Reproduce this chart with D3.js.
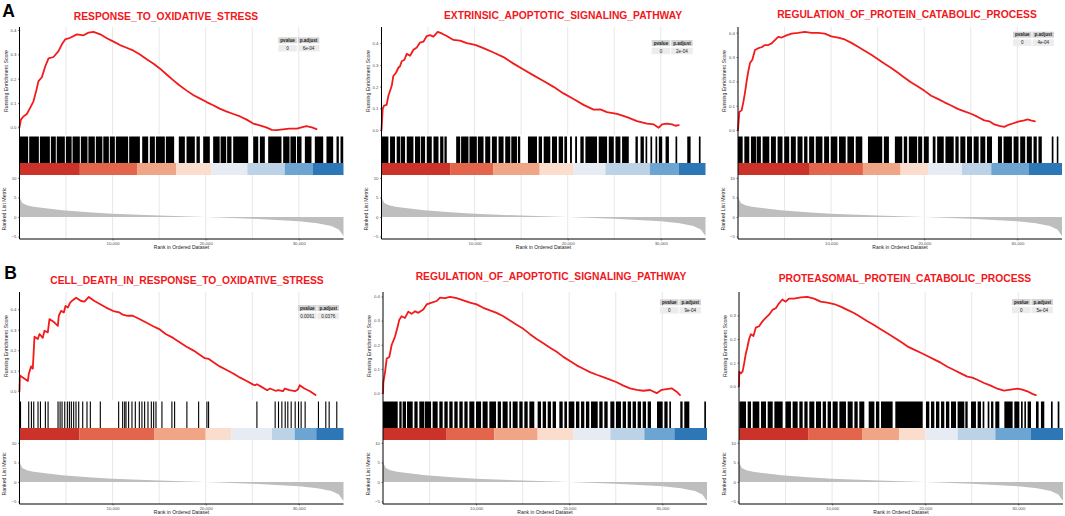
<!DOCTYPE html>
<html>
<head>
<meta charset="utf-8">
<script src="https://cdn.jsdelivr.net/npm/d3@7"></script>
<style>
  body { margin: 0; background: #fff; }
  svg { display: block; }
  text { font-family: "Liberation Sans", Arial, sans-serif; }
</style>
</head>
<body>
<svg id="chart"></svg>
<script>
// ---- data (ranks in thousands) ----
const rankMax = 34800;
const rankTicks = [10000, 20000, 30000];
const gridRanks = [5000, 10000, 15000, 20000, 25000, 30000];
const esTicks = [0, 0.1, 0.2, 0.3, 0.4];
const metricTicks = [-5, 0, 5, 10];

const titles = [
  "RESPONSE_TO_OXIDATIVE_STRESS",
  "EXTRINSIC_APOPTOTIC_SIGNALING_PATHWAY",
  "REGULATION_OF_PROTEIN_CATABOLIC_PROCESS",
  "CELL_DEATH_IN_RESPONSE_TO_OXIDATIVE_STRESS",
  "REGULATION_OF_APOPTOTIC_SIGNALING_PATHWAY",
  "PROTEASOMAL_PROTEIN_CATABOLIC_PROCESS"
];
const rowLabels = ["A", "B"];
const tableHead = ["pvalue", "p.adjust"];
const pvalues = ["0", "0", "0", "0.0061", "0", "0"];
const padjust = ["6e-04", "2e-04", "4e-04", "0.0376", "9e-04", "5e-04"];

// ranked list metric (shared gene list)
const metricRank = [0, 0.01, 0.05, 0.3, 0.8, 1.5, 2.8, 4.6, 7.4, 10, 15, 20, 25, 30, 32, 33.5, 34.3, 34.8];
const metricValue = [10.0, 5.6, 4.8, 3.6, 3.0, 2.6, 2.2, 1.7, 1.2, 0.8, 0.35, 0.0, -0.45, -1.1, -1.6, -2.3, -3.2, -4.9];

// running enrichment score [rank (k), ES]
const esA1 = [[0,0],[0.15,0.032],[0.42,0.045],[0.79,0.055],[1.14,0.08],[1.5,0.107],[1.78,0.148],[2.04,0.19],[2.4,0.206],[2.76,0.25],[3.12,0.283],[3.65,0.289],[4.19,0.313],[4.55,0.341],[4.91,0.361],[5.45,0.368],[6.16,0.382],[6.88,0.378],[7.41,0.389],[7.95,0.392],[8.67,0.382],[9.38,0.366],[10.1,0.352],[10.8,0.338],[11.5,0.327],[12.2,0.316],[12.9,0.3],[13.7,0.279],[14.4,0.261],[15.1,0.241],[15.8,0.217],[16.5,0.194],[17.2,0.172],[17.96,0.151],[18.7,0.132],[19.4,0.118],[20.1,0.104],[20.8,0.091],[21.5,0.077],[22.2,0.066],[22.97,0.055],[23.7,0.045],[24.4,0.032],[25.1,0.016],[25.8,0.008],[26.5,0.0],[27.1,-0.01],[27.6,-0.011],[28.3,-0.008],[29.0,-0.005],[29.8,-0.005],[30.3,0.0],[30.8,0.005],[31.4,0.0],[31.9,-0.007]];
const esA2 = [[0,0],[0.13,0.098],[0.27,0.113],[0.55,0.116],[0.74,0.158],[1.1,0.204],[1.27,0.249],[1.56,0.264],[1.81,0.287],[1.99,0.294],[2.17,0.317],[2.46,0.324],[2.71,0.351],[3.07,0.342],[3.43,0.37],[3.79,0.38],[4.14,0.403],[4.5,0.407],[4.86,0.433],[5.22,0.437],[5.58,0.43],[6.04,0.452],[6.47,0.445],[7.01,0.433],[7.73,0.415],[8.44,0.412],[9.16,0.4],[10.06,0.392],[10.95,0.377],[12.03,0.357],[13.1,0.336],[14.18,0.306],[15.25,0.279],[16.33,0.252],[17.4,0.226],[18.48,0.199],[19.55,0.169],[20.63,0.143],[21.7,0.116],[22.78,0.094],[23.5,0.095],[24.21,0.083],[25.3,0.075],[26.37,0.06],[27.44,0.041],[28.52,0.03],[29.24,0.026],[29.78,0.011],[30.13,0.026],[30.67,0.03],[31.21,0.026],[31.57,0.02],[31.93,0.023]];
const esA3 = [[0,0],[0.14,0.074],[0.39,0.081],[0.57,0.114],[0.75,0.154],[0.93,0.201],[1.11,0.242],[1.29,0.275],[1.54,0.289],[1.82,0.329],[2.18,0.336],[2.53,0.34],[2.89,0.349],[3.25,0.349],[3.61,0.356],[3.96,0.369],[4.32,0.383],[4.68,0.38],[5.21,0.389],[5.75,0.396],[6.46,0.399],[7.18,0.403],[7.89,0.399],[8.6,0.399],[9.32,0.396],[10.03,0.385],[10.75,0.38],[11.46,0.372],[12.18,0.358],[12.89,0.342],[13.6,0.326],[14.32,0.309],[15.03,0.291],[15.75,0.272],[16.46,0.255],[17.18,0.235],[17.89,0.215],[18.61,0.195],[19.32,0.179],[20.03,0.161],[20.75,0.141],[21.46,0.128],[22.18,0.114],[22.89,0.101],[23.6,0.087],[24.32,0.077],[25.03,0.067],[25.75,0.054],[26.46,0.04],[27.0,0.036],[27.53,0.023],[28.07,0.017],[28.6,0.013],[28.96,0.02],[29.5,0.027],[30.21,0.036],[30.75,0.04],[31.1,0.044],[31.46,0.04],[31.89,0.036]];
const esB1 = [[0,0],[0.04,0.077],[0.9,0.05],[1.0,0.085],[1.25,0.121],[1.43,0.11],[1.61,0.266],[1.97,0.255],[2.15,0.279],[2.5,0.26],[2.68,0.295],[3.04,0.287],[3.22,0.352],[3.76,0.335],[4.12,0.319],[4.22,0.368],[4.47,0.392],[4.76,0.384],[4.94,0.416],[5.19,0.408],[5.44,0.432],[5.72,0.444],[6.08,0.456],[6.62,0.44],[6.98,0.437],[7.44,0.46],[8.05,0.44],[8.58,0.427],[9.3,0.408],[10.19,0.389],[10.73,0.384],[11.09,0.373],[11.63,0.368],[12.16,0.368],[12.88,0.352],[13.6,0.335],[14.3,0.318],[15.0,0.303],[15.7,0.279],[16.5,0.26],[17.2,0.239],[17.9,0.218],[18.7,0.198],[19.4,0.177],[19.9,0.161],[20.3,0.158],[20.8,0.142],[21.5,0.121],[22.3,0.102],[23.0,0.085],[23.7,0.066],[24.4,0.05],[25.1,0.032],[25.3,0.029],[25.5,0.034],[26.0,0.021],[26.6,0.005],[26.9,0.013],[27.5,0.002],[27.8,0.005],[28.3,0],[28.5,0.013],[29.0,0.005],[29.6,0],[29.9,0.008],[30.1,0.029],[30.6,0.013],[31.2,0],[31.8,-0.019]];
const esB2 = [[0,0],[0.04,0.045],[0.22,0.087],[0.4,0.143],[0.68,0.15],[0.93,0.199],[1.29,0.234],[1.54,0.269],[1.75,0.304],[2.0,0.318],[2.36,0.311],[2.72,0.337],[3.08,0.328],[3.44,0.339],[3.79,0.332],[4.33,0.346],[4.69,0.367],[5.23,0.374],[5.76,0.381],[6.12,0.395],[6.66,0.393],[7.2,0.398],[7.91,0.393],[8.63,0.384],[9.34,0.374],[10.06,0.367],[10.77,0.353],[11.49,0.342],[12.2,0.332],[12.92,0.318],[13.64,0.3],[14.35,0.283],[15.07,0.266],[15.79,0.244],[16.5,0.224],[17.22,0.206],[17.94,0.188],[18.65,0.171],[19.37,0.15],[20.08,0.133],[20.8,0.115],[21.52,0.101],[22.23,0.087],[22.95,0.076],[23.67,0.066],[24.38,0.056],[25.1,0.045],[25.82,0.031],[26.53,0.02],[27.25,0.014],[27.96,0.01],[28.68,0.013],[29.4,0],[29.93,0.014],[30.47,0.017],[31.0,0.02],[31.54,0.006],[31.9,-0.008]];
const esB3 = [[0,0],[0.03,0.062],[0.2,0.055],[0.38,0.062],[0.55,0.096],[0.73,0.138],[0.9,0.165],[1.08,0.199],[1.27,0.22],[1.55,0.213],[1.8,0.248],[2.16,0.254],[2.52,0.275],[2.87,0.289],[3.23,0.303],[3.59,0.323],[3.95,0.33],[4.3,0.351],[4.66,0.367],[5.01,0.358],[5.37,0.371],[5.91,0.371],[6.63,0.376],[7.34,0.378],[8.06,0.371],[8.77,0.358],[9.49,0.354],[10.2,0.348],[10.92,0.337],[11.64,0.323],[12.35,0.31],[13.07,0.293],[13.79,0.275],[14.5,0.259],[15.22,0.241],[15.93,0.224],[16.65,0.206],[17.37,0.188],[18.08,0.169],[18.8,0.155],[19.52,0.142],[20.23,0.128],[20.95,0.114],[21.66,0.1],[22.38,0.083],[23.1,0.069],[23.81,0.055],[24.53,0.041],[25.07,0.037],[25.6,0.028],[26.32,0.014],[27.04,0.003],[27.75,-0.01],[28.47,-0.018],[29.19,-0.014],[29.9,-0.01],[30.44,-0.014],[30.97,-0.021],[31.51,-0.032],[31.87,-0.037]];

// gene-set hits, as [from, to] runs of ranks (k)
const hitsA1 = [[0,0.93],[1.04,2.08],[2.19,3.26],[3.37,3.9],[4.0,4.87],[4.98,5.6],[5.7,6.48],[6.59,7.3],[7.4,8.09],[8.2,8.9],[9.0,9.6],[9.7,10.24],[10.35,11.67],[11.78,12.93],[13.18,13.82],[14.0,14.54],[14.65,15.61],[15.72,16.61],[17.11,17.76],[17.94,18.83],[19.01,19.37],[19.73,20.44],[20.8,21.5],[21.6,22.2],[22.3,22.77],[22.95,24.56],[25.1,25.64],[25.82,26.35],[26.71,28.14],[28.32,29.0],[29.1,29.7],[29.8,30.29],[30.65,31.36],[31.72,32.62],[32.97,33.69],[34.05,34.3],[34.48,34.77]];
const hitsA2 = [[0,0.74],[0.92,1.45],[1.63,1.99],[2.06,2.53],[2.71,3.43],[3.6,4.14],[4.22,4.68],[4.86,5.4],[5.58,6.12],[6.3,6.65],[6.76,7.01],[8.02,8.45],[8.55,9.34],[9.45,10.24],[10.35,10.96],[11.14,11.68],[11.86,12.39],[12.57,13.11],[13.29,13.83],[13.94,14.55],[14.65,14.9],[15.73,16.7],[16.88,17.24],[17.42,18.13],[18.31,18.85],[19.03,19.5],[19.64,19.93],[20.25,20.45],[20.8,21.0],[21.36,21.72],[21.9,23.15],[23.33,24.23],[24.41,24.95],[25.13,25.66],[25.84,26.56],[27.28,27.53],[27.82,28.18],[28.36,28.54],[28.89,29.07],[29.43,29.61],[29.79,30.15],[30.51,30.87],[31.58,31.76],[32.84,33.2],[34.09,34.27]];
const hitsA3 = [[0,0.5],[0.68,1.21],[1.39,1.93],[2.0,2.46],[2.64,3.36],[3.54,4.07],[4.25,4.78],[4.96,5.5],[5.68,6.21],[6.39,6.93],[7.1,7.46],[7.64,8.18],[8.35,9.07],[9.25,9.78],[9.96,10.67],[10.85,11.57],[11.75,12.46],[12.64,13.35],[13.96,15.49],[15.67,16.21],[16.85,17.64],[17.81,18.17],[18.35,19.24],[19.35,19.78],[19.96,20.49],[20.92,21.21],[21.39,22.1],[22.28,23.17],[23.35,23.7],[23.88,24.42],[24.6,25.13],[25.31,25.85],[26.03,26.56],[26.74,27.28],[27.92,28.35],[28.52,29.42],[29.6,30.13],[30.31,30.85],[31.02,31.56],[31.74,32.09],[32.27,32.63],[33.7,33.88],[34.24,34.41]];
const hitsB1 = [0.05,0.93,1.22,1.47,1.93,2.19,2.72,3.01,4.08,4.3,4.51,4.8,5.08,5.3,5.51,5.76,6.01,6.3,6.73,7.19,7.55,8.62,10.59,11.02,11.24,11.38,11.66,12.02,12.38,12.81,13.09,13.38,13.74,14.1,14.35,14.6,15.24,16.31,16.6,17.92,19.18,20.07,20.25,25.44,27.4,27.76,28.12,28.48,28.76,29.12,29.55,29.91,30.19,30.62,32.05,32.84,33.2,34.02];
const hitsB2 = [[0,1.58],[1.75,2.0],[2.11,2.47],[2.58,3.19],[3.37,3.72],[3.9,4.44],[4.51,5.16],[5.33,5.87],[6.05,6.41],[6.59,6.95],[7.12,7.48],[7.66,8.02],[8.2,8.56],[8.74,9.09],[9.27,9.81],[9.99,10.53],[10.7,11.24],[11.42,12.14],[12.32,12.67],[12.85,13.39],[13.57,13.75],[13.93,14.46],[14.64,15.0],[15.18,15.54],[15.72,16.25],[16.61,16.97],[17.15,17.51],[17.69,18.04],[18.22,18.58],[18.94,19.3],[19.48,19.76],[19.94,20.55],[20.73,21.09],[21.27,21.62],[21.8,22.16],[22.34,23.06],[23.23,23.59],[23.77,24.13],[24.42,24.85],[25.02,25.56],[25.74,26.1],[26.28,26.64],[26.81,27.17],[27.35,27.71],[27.89,28.25],[28.43,28.78],[29.43,30.04],[30.22,30.57],[30.75,30.93],[31.93,32.18],[32.36,32.9],[34.51,34.69]];
const hitsB3 = [[0.04,0.75],[0.93,1.29],[1.47,2.18],[2.36,2.9],[3.08,3.62],[3.8,4.69],[4.98,5.58],[5.76,6.3],[6.48,6.84],[7.02,7.37],[7.55,8.09],[8.27,8.81],[8.99,9.34],[9.52,9.88],[10.06,10.6],[10.78,11.49],[11.67,12.21],[12.39,12.75],[12.92,13.46],[13.93,14.54],[14.71,15.07],[15.25,16.5],[16.79,19.73],[20.08,20.44],[20.62,20.98],[21.16,21.52],[21.7,22.05],[22.23,22.59],[22.77,23.31],[23.48,24.2],[24.31,24.56],[24.92,25.45],[25.63,25.99],[26.17,26.35],[26.71,26.89],[27.07,27.32],[27.53,27.96],[28.5,29.39],[29.57,30.11],[30.29,30.47],[30.65,30.82],[31.0,31.36],[31.9,32.18],[32.43,32.79],[33.51,33.69],[34.23,34.41]];

// colour band breaks (k)
const bandA1 = [0, 6.48, 12.67, 16.85, 20.61, 24.47, 28.48, 31.52, 34.8];
const bandA2 = [0, 7.37, 12.03, 16.99, 20.64, 24.05, 28.82, 31.94, 34.8];
const bandA3 = [0, 7.71, 13.42, 17.46, 20.42, 24.06, 27.2, 31.2, 34.8];
const bandB1 = [0, 6.41, 14.45, 20.0, 22.75, 27.12, 29.55, 31.87, 34.8];
const bandB2 = [0, 6.77, 11.96, 16.61, 20.48, 24.42, 28.07, 31.29, 34.8];
const bandB3 = [0, 7.48, 13.21, 17.22, 20.01, 23.48, 27.53, 31.36, 34.8];

// ---- styles & layout ----
const bandColors = ["#CB3229", "#E2654C", "#EFA586", "#FADDCD", "#E6EBF4", "#BCD3E7", "#6CA5D2", "#2E77B7"];
const W = 1065, H = 516;
const rowTop = [27, 292];
const esH = 108, barH = 28, bandH = 12, rankH = 64;
const panelX = [19.5, 381.5, 738, 19.5, 383, 739];
const panelW = 324;
const titleX = [166, 563, 907, 187, 551, 905];
const titleY = [19.9, 18.7, 17.9, 283.9, 280.2, 282];
const tableX = [278.3, 651.7, 1013, 298, 660, 1012];
const tableY = [37.3, 40, 31.7, 305, 299.3, 299];
const colW = [18.5, 21.5];

const esData = [esA1, esA2, esA3, esB1, esB2, esB3];
const hitData = [hitsA1, hitsA2, hitsA3, hitsB1.map(k => [k, k]), hitsB2, hitsB3];
const bandData = [bandA1, bandA2, bandA3, bandB1, bandB2, bandB3];
const metric = metricRank.map((r, i) => [r, metricValue[i]]);

const svg = d3.select("#chart").attr("width", W).attr("height", H);
svg.append("rect").attr("width", W).attr("height", H).attr("fill", "#fff");

// ggplot style 5% expansion
function padded(ext) {
  const p = (ext[1] - ext[0]) * 0.05;
  return [ext[0] - p, ext[1] + p];
}

function styleAxis(sel) {
  sel.select(".domain").remove();
  sel.selectAll(".tick line").attr("stroke", "#333").attr("stroke-width", 0.6);
  sel.selectAll(".tick text").attr("fill", "#4d4d4d").style("font-size", "4.3px")
     .style("font-family", "'Liberation Sans', Arial, sans-serif");
}

esData.forEach((es, i) => {
  const top = rowTop[Math.floor(i / 3)];
  const x0 = panelX[i];
  const esB = top + esH, barB = esB + barH, bandB = barB + bandH, rankB = bandB + rankH;

  const x = d3.scaleLinear().domain([0, rankMax]).range([x0, x0 + panelW]);
  const yEs = d3.scaleLinear().domain(padded(d3.extent(es, d => d[1]))).range([esB, top]);
  const yRank = d3.scaleLinear().domain(padded(d3.extent(metricValue))).range([rankB, bandB]);

  const g = svg.append("g");

  // vertical grid in ES and ranked panels
  [[top, esB], [bandB, rankB]].forEach(([a, b]) => {
    g.append("g").selectAll("line").data(gridRanks).join("line")
      .attr("x1", d => x(d)).attr("x2", d => x(d))
      .attr("y1", a).attr("y2", b)
      .attr("stroke", "#e4e4e4").attr("stroke-width", 0.9);
  });

  // ranked list metric
  g.append("path").datum(metric)
    .attr("d", d3.area().x(d => x(d[0] * 1000)).y0(yRank(0)).y1(d => yRank(d[1])))
    .attr("fill", "#BEBEBE");

  // running enrichment score
  g.append("path").datum(es)
    .attr("d", d3.line().x(d => x(d[0] * 1000)).y(d => yEs(d[1])))
    .attr("fill", "none").attr("stroke", "#F21A1A").attr("stroke-width", 1.8)
    .attr("stroke-linejoin", "round").attr("stroke-linecap", "round");

  // barcode of hits
  g.append("g").selectAll("rect").data(hitData[i]).join("rect")
    .attr("x", d => x(d[0] * 1000))
    .attr("width", d => Math.max(x(d[1] * 1000) - x(d[0] * 1000), 1.1))
    .attr("y", esB + 1.5).attr("height", barB - esB - 1.5)
    .attr("fill", "#000");

  // colour band
  const br = bandData[i];
  g.append("g").selectAll("rect").data(br.slice(0, -1)).join("rect")
    .attr("x", (d, j) => x(d * 1000))
    .attr("width", (d, j) => x(br[j + 1] * 1000) - x(d * 1000))
    .attr("y", barB).attr("height", bandH)
    .attr("fill", (d, j) => bandColors[j]);

  // axes
  const esDom = yEs.domain();
  g.append("g").attr("transform", `translate(${x0},0)`)
    .call(d3.axisLeft(yEs).tickValues(esTicks.filter(t => t >= esDom[0] && t <= esDom[1]))
      .tickFormat(d3.format(".1f")).tickSize(1.5).tickPadding(1.5))
    .call(styleAxis);
  g.append("g").attr("transform", `translate(${x0},0)`)
    .call(d3.axisLeft(yRank).tickValues(metricTicks).tickSize(1.5).tickPadding(1.5))
    .call(styleAxis);
  g.append("g").attr("transform", `translate(0,${rankB})`)
    .call(d3.axisBottom(x).tickValues(rankTicks).tickSize(1.5).tickPadding(1))
    .call(styleAxis);

  g.append("line").attr("x1", x0).attr("x2", x0).attr("y1", top).attr("y2", rankB)
    .attr("stroke", "#000").attr("stroke-width", 1);
  g.append("line").attr("x1", x0).attr("x2", x0 + panelW).attr("y1", rankB).attr("y2", rankB)
    .attr("stroke", "#000").attr("stroke-width", 1);

  // axis titles
  g.append("text").attr("transform", `translate(${x0 - 12},${(top + esB) / 2}) rotate(-90)`)
    .attr("text-anchor", "middle").style("font-size", "5.2px").attr("fill", "#222")
    .text("Running Enrichment Score");
  g.append("text").attr("transform", `translate(${x0 - 13.5},${(bandB + rankB) / 2 + 2}) rotate(-90)`)
    .attr("text-anchor", "middle").style("font-size", "5.2px").attr("fill", "#222")
    .text("Ranked List Metric");
  g.append("text").attr("x", x0 + panelW / 2).attr("y", rankB + 10)
    .attr("text-anchor", "middle").style("font-size", "5px").attr("fill", "#222")
    .text("Rank in Ordered Dataset");

  // title
  g.append("text").attr("x", titleX[i]).attr("y", titleY[i])
    .attr("text-anchor", "middle").attr("fill", "#F2171B")
    .style("font-size", "10.3px").style("font-weight", "bold")
    .text(titles[i]);

  // p-value table
  const tx = tableX[i], ty = tableY[i];
  const cellX = [tx, tx + colW[0] + 1];
  const rows = [{ vals: tableHead, fill: "#D4D4D4", y: ty, h: 6, bold: true },
                { vals: [pvalues[i], padjust[i]], fill: "#ECECEC", y: ty + 7.7, h: 6.5, bold: false }];
  rows.forEach(r => {
    r.vals.forEach((v, c) => {
      g.append("rect").attr("x", cellX[c]).attr("y", r.y).attr("width", colW[c]).attr("height", r.h)
        .attr("fill", r.fill);
      g.append("text").attr("x", cellX[c] + colW[c] / 2).attr("y", r.y + r.h / 2 + 1.6)
        .attr("text-anchor", "middle").style("font-size", "4.6px")
        .style("font-weight", r.bold ? "bold" : "normal").attr("fill", "#222")
        .text(v);
    });
  });
});

// panel letters
svg.selectAll("text.rowlab").data(rowLabels).join("text").attr("class", "rowlab")
  .attr("x", (d, i) => i === 0 ? 2.3 : 4.3)
  .attr("y", (d, i) => i === 0 ? 17.4 : 279.2)
  .style("font-size", "17.5px").style("font-weight", "bold").attr("fill", "#000")
  .text(d => d);
</script>
</body>
</html>
